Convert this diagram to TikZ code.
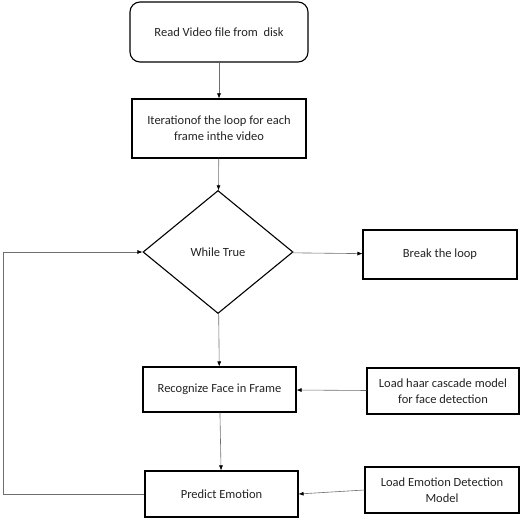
\documentclass[tikz,border=0pt]{standalone}
\usepackage{fontspec}
\setmainfont{Carlito}
\usetikzlibrary{shapes.geometric}
\usetikzlibrary{arrows.meta}
\definecolor{line-gray}{RGB}{110, 110, 110}
\definecolor{text-gray}{RGB}{35, 35, 35}

\begin{document}
\begin{tikzpicture}[x=1pt, y=-1pt,
    stepbox/.style={draw=black, line width=1.1pt, inner sep=2pt, align=center, text=text-gray, font=\fontsize{12.5}{16}\selectfont},
    startbox/.style={stepbox, rounded corners=10pt},
    decision/.style={draw=black, line width=1.1pt, diamond, inner sep=0pt, text=text-gray, font=\fontsize{12.5}{16}\selectfont},
    flow/.style={draw=line-gray, line width=0.6pt, -{Latex[length=5pt, width=4pt, color=black]}}]
\useasboundingbox (0,0) rectangle (527,521);

\node[startbox, minimum width=178pt, minimum height=60pt] (read) at (219,32) {Read Video file from\ \ disk};
\node[stepbox, minimum width=174pt, minimum height=59pt] (iter) at (219,128.5) {Iterationof the loop for each\\frame inthe video};
\node[decision, minimum width=150pt, minimum height=123pt] (while) at (218,252) {While True};
\node[stepbox, minimum width=154pt, minimum height=49pt] (brk) at (440,254.5) {Break the loop};

\node[stepbox, minimum width=153pt, minimum height=45pt] (recog) at (219.5,389.5) {Recognize Face in Frame};
\node[stepbox, minimum width=152pt, minimum height=46pt] (haar) at (443,391) {Load haar cascade model\\for face detection};

\node[stepbox, minimum width=153pt, minimum height=46pt] (pred) at (221.5,494) {Predict Emotion};
\node[stepbox, minimum width=154pt, minimum height=46pt] (emo) at (442,490) {Load Emotion Detection\\Model};

\coordinate (back) at (3,494);

\draw[flow] (read) -- (iter);
\draw[flow] (iter) -- (while);
\draw[flow] (while) -- (brk);
\draw[flow] (while) -- (recog);
\draw[flow] (haar) -- (recog);
\draw[flow] (recog) -- (pred);
\draw[flow] (emo.west) -- (pred.east);
\draw[flow] (pred.west) -- (back) |- (while.west);

\end{tikzpicture}
\end{document}
